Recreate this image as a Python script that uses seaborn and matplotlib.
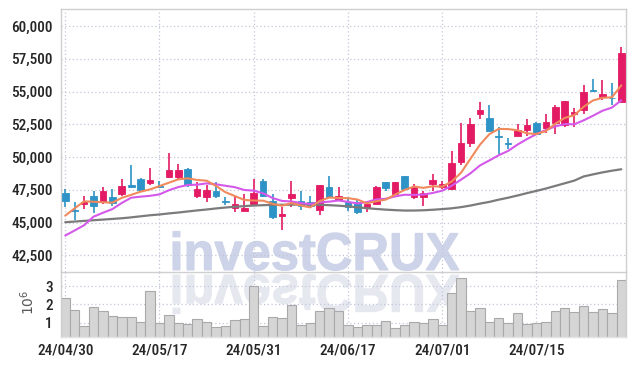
import numpy as np
import pandas as pd
import matplotlib
matplotlib.use("Agg")
import matplotlib.pyplot as plt
import seaborn as sns
from matplotlib.textpath import TextPath
from matplotlib.patches import PathPatch
from matplotlib.font_manager import FontProperties, fontManager
from matplotlib.transforms import Affine2D
from matplotlib.ticker import FuncFormatter

# trading days shown on the chart
dates = ["2024-04-30", "2024-05-02", "2024-05-03", "2024-05-07", "2024-05-08", "2024-05-09",
         "2024-05-10", "2024-05-13", "2024-05-14", "2024-05-16", "2024-05-17", "2024-05-20",
         "2024-05-21", "2024-05-22", "2024-05-23", "2024-05-24", "2024-05-27", "2024-05-28",
         "2024-05-29", "2024-05-30", "2024-05-31", "2024-06-03", "2024-06-04", "2024-06-05",
         "2024-06-07", "2024-06-10", "2024-06-11", "2024-06-12", "2024-06-13", "2024-06-14",
         "2024-06-17", "2024-06-18", "2024-06-19", "2024-06-20", "2024-06-21", "2024-06-24",
         "2024-06-25", "2024-06-26", "2024-06-27", "2024-06-28", "2024-07-01", "2024-07-02",
         "2024-07-03", "2024-07-04", "2024-07-05", "2024-07-08", "2024-07-09", "2024-07-10",
         "2024-07-11", "2024-07-12", "2024-07-15", "2024-07-16", "2024-07-17", "2024-07-18",
         "2024-07-19", "2024-07-22", "2024-07-23", "2024-07-24", "2024-07-25", "2024-07-26"]

opens = [47250, 45950, 46420, 47000, 46550, 46920, 47170, 47850, 48360, 48030,
         47800, 48500, 48480, 49120, 47040, 46920, 47420, 46650, 46090, 45900,
         46420, 48180, 46620, 45530, 46900, 46660, 46540, 45960, 47750, 46720,
         46540, 46540, 46210, 46420, 48110, 47170, 48520, 46920, 46920, 47930,
         47700, 47550, 49620, 51100, 53320, 53000, 51570, 51060, 51600, 52050,
         52620, 52230, 52620, 52410, 53250, 53570, 55110, 54590, 54530, 54180]
highs = [47600, 46600, 47050, 47420, 47750, 47600, 48360, 49370, 48380, 49200,
         48180, 50280, 49450, 49130, 48060, 47880, 48060, 46920, 47000, 47170,
         48360, 48310, 47170, 46160, 48180, 47380, 47040, 47860, 48520, 47680,
         46920, 46740, 46420, 47830, 48120, 48120, 48520, 47980, 47420, 48690,
         48180, 50500, 52610, 53000, 54180, 54000, 52310, 51420, 52490, 52920,
         52640, 53320, 54000, 54310, 53750, 55520, 55950, 55850, 55650, 58380]
lows = [46200, 45230, 46030, 45700, 46420, 46290, 47040, 47620, 47450, 47850,
        47620, 48440, 48360, 47750, 46850, 46550, 46850, 46340, 45830, 45900,
        46410, 46920, 45270, 44450, 46160, 45980, 46090, 45580, 46960, 46710,
        45900, 45650, 45790, 46410, 47430, 47170, 47450, 46790, 46290, 47420,
        47550, 47500, 49370, 50790, 52920, 51970, 50210, 50640, 51590, 51600,
        51720, 51860, 51730, 52310, 52310, 53320, 54940, 54380, 54000, 54170]
closes = [46650, 45900, 46550, 46290, 47380, 46470, 47760, 47700, 47500, 48230,
          47750, 49050, 48980, 47880, 47600, 47480, 47040, 46600, 46410, 46110,
          47250, 47000, 45400, 45650, 47170, 46290, 46290, 47850, 46970, 47000,
          46210, 45780, 46410, 47730, 47630, 48110, 47560, 47730, 47230, 48230,
          47950, 49530, 51100, 52560, 53570, 51980, 51540, 51030, 52100, 52410,
          51730, 52660, 53830, 54310, 53420, 54970, 55080, 54840, 54500, 57970]

# volume in millions of shares
volume_m = [2.33, 1.67, 0.80, 1.84, 1.62, 1.35, 1.29, 1.29, 1.04, 2.71,
            0.98, 1.40, 0.98, 0.91, 1.18, 1.02, 0.75, 0.80, 1.13, 1.18,
            3.00, 0.80, 1.29, 1.24, 1.95, 0.85, 0.98, 1.62, 1.78, 1.62,
            0.85, 0.75, 0.85, 0.85, 1.07, 0.69, 0.85, 1.02, 0.96, 1.18,
            0.85, 2.65, 3.42, 1.62, 1.78, 1.02, 1.24, 0.98, 1.51, 0.91,
            0.96, 1.02, 1.62, 1.78, 1.56, 1.89, 1.56, 1.73, 1.51, 3.33]

# moving average values before the window fills
ma5_head = [45530, 46090, 46620, 46590]
ma10_head = [44010, 44400, 44800, 45450, 45750, 46030, 46500, 46900, 46980]
ma60 = [45030, 45080, 45130, 45180, 45230, 45280, 45330, 45400, 45480, 45560,
        45620, 45700, 45770, 45850, 45930, 46000, 46080, 46150, 46210, 46260,
        46300, 46330, 46350, 46360, 46370, 46380, 46370, 46360, 46330, 46290,
        46240, 46170, 46100, 46040, 45990, 45950, 45920, 45920, 45940, 45980,
        46030, 46090, 46180, 46300, 46450, 46580, 46750, 46900, 47070, 47250,
        47420, 47600, 47800, 48000, 48200, 48520, 48680, 48830, 48960, 49070]

df = pd.DataFrame({"date": pd.to_datetime(dates), "open": opens, "high": highs,
                   "low": lows, "close": closes, "vol": volume_m, "ma60": ma60})
df["x"] = np.arange(len(df))
ma5 = df["close"].rolling(5).mean().to_numpy()
ma5[:4] = ma5_head
ma10 = df["close"].rolling(10).mean().to_numpy()
ma10[:9] = ma10_head
df["ma5"] = ma5
df["ma10"] = ma10

sns.set_theme(style="white")
# pick a narrow face if one is installed
installed = {f.name for f in fontManager.ttflist}
narrow = [f for f in ["Liberation Sans Narrow", "Roboto Condensed", "Open Sans Condensed",
                      "Noto Sans Display", "Roboto"] if f in installed]
plt.rcParams["font.family"] = narrow[:1] + ["DejaVu Sans"]
LABEL_WEIGHT = "bold" if narrow[:1] == ["Liberation Sans Narrow"] else "medium"

UP = "#e31b64"
DOWN = "#2e93c6"
GRID = "#c3c7da"
SPINE = "#cfcfcf"

fig = plt.figure(figsize=(6.34, 3.66), dpi=100)
ax = fig.add_axes([61 / 634, 94 / 366, 565 / 634, 263 / 366])
axv = fig.add_axes([61 / 634, 29 / 366, 565 / 634, 65 / 366], sharex=ax)
axv.patch.set_facecolor("none")

# candles
up = df["close"] >= df["open"]
colors = np.where(up, UP, DOWN)
bottom = np.minimum(df["open"], df["close"])
height = np.maximum((df["close"] - df["open"]).abs(), 40)
ax.vlines(df["x"], df["low"], df["high"], colors=colors, lw=1.2, zorder=2)
ax.bar(df["x"], height, bottom=bottom, width=0.7, color=colors,
       edgecolor=colors, linewidth=0.6, zorder=3)

# moving averages
sns.lineplot(data=df, x="x", y="ma60", ax=ax, color="#7b7b7b", lw=1.6, zorder=4)
sns.lineplot(data=df, x="x", y="ma10", ax=ax, color="#d458ea", lw=1.5, zorder=5)
sns.lineplot(data=df, x="x", y="ma5", ax=ax, color="#f08a5c", lw=1.5, zorder=6)

# volume
sns.barplot(data=df, x="x", y="vol", ax=axv, native_scale=True, width=1,
            color="#d5d5d5", edgecolor="#a9a9a9", linewidth=0.8,
            saturation=1, errorbar=None, zorder=2)

# watermark with reflection
fp = FontProperties(family="Liberation Sans", weight="bold")
tp = TextPath((0, 0), "investCRUX", size=100, prop=fp)
ext = tp.get_extents()
s = 286 / ext.width
x0 = 173 - ext.x0 * s
ax.add_artist(PathPatch(tp, transform=Affine2D().scale(s, s * 1.05).translate(x0, 366 - 270),
                        fc="#cdd3e8", ec="#cdd3e8", lw=0.8, zorder=0.3, clip_on=False))
ax.add_artist(PathPatch(tp, transform=Affine2D().scale(s, -s * 1.05).translate(x0, 366 - 275),
                        fc="#e6e8f0", ec="#e6e8f0", lw=0.8, zorder=0.3, clip_on=False))

# axes
ax.set_xlim(-0.45, 59.5)
ax.set_ylim(41230, 61300)
axv.set_ylim(0.22, 3.77)

tick_idx = [0, 10, 20, 30, 40, 50]
axv.set_xticks(tick_idx)
axv.set_xticklabels([df["date"][i].strftime("%y/%m/%d") for i in tick_idx])
ax.set_yticks(np.arange(42500, 60001, 2500))
ax.yaxis.set_major_formatter(FuncFormatter(lambda v, p: f"{v:,.0f}"))
axv.set_yticks([1, 2, 3])
axv.set_yticklabels(["1", "2", "3"])

for a in (ax, axv):
    a.grid(True, ls=(0, (1, 2)), color=GRID, lw=0.9)
    a.set_axisbelow(True)
    a.set_xlabel("")
    a.set_ylabel("")
    a.tick_params(axis="both", length=0, labelsize=11, labelcolor="#262626")
    a.tick_params(axis="y", pad=6)
    a.tick_params(axis="x", pad=5)
    for lab in a.get_xticklabels() + a.get_yticklabels():
        lab.set_fontweight(LABEL_WEIGHT)
    for sp in a.spines.values():
        sp.set_color(SPINE)
        sp.set_linewidth(1)
plt.setp(ax.get_xticklabels(), visible=False)
axv.spines["top"].set_visible(False)
axv.spines["bottom"].set_color("#e2e2e2")

axv.set_ylabel("$10^6$", fontsize=10, color="#555555")
axv.yaxis.set_label_coords(-0.043, 0.54)

fig.savefig("out.png", dpi=100)
